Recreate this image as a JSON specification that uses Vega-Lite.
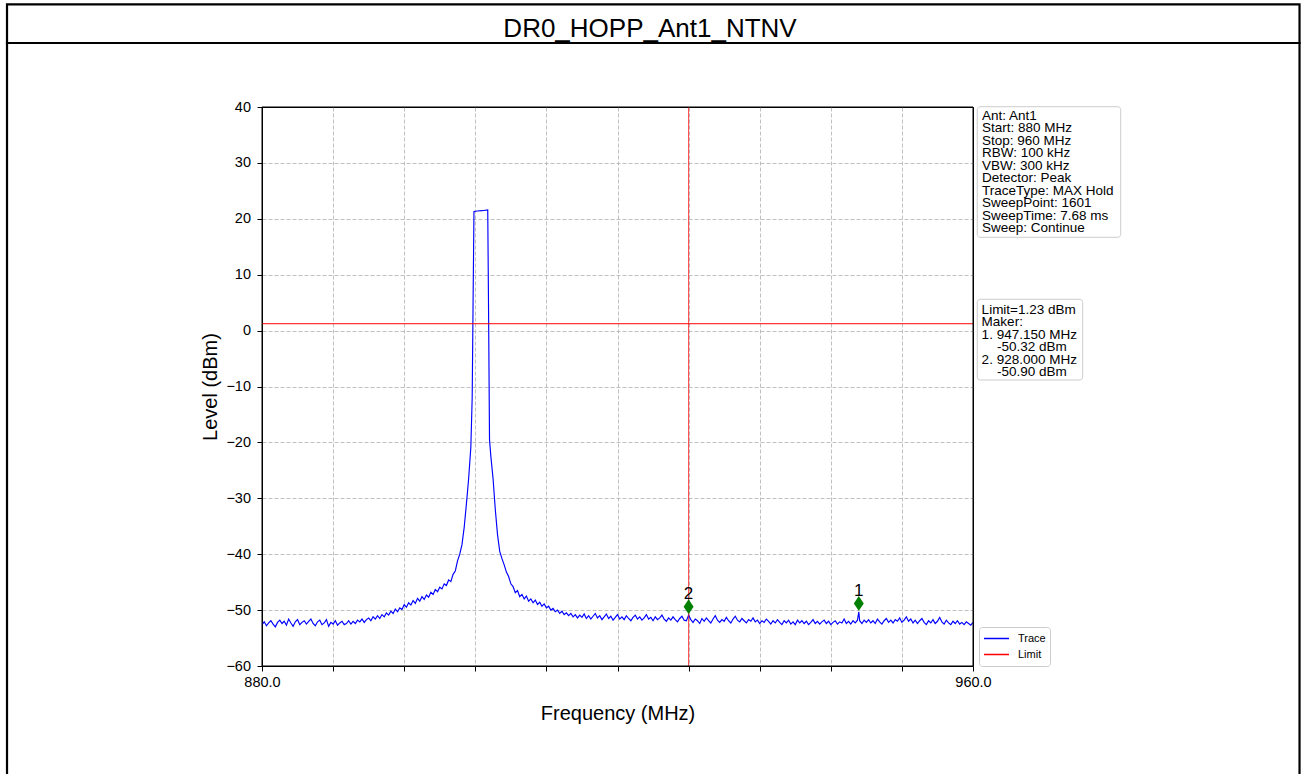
{
"$schema": "https://vega.github.io/schema/vega-lite/v6.json",
"autosize": {"type": "none"},
"padding": {"left": 262, "top": 107, "right": 335, "bottom": 108},
"width": 711,
"height": 559,
"background": "white",
"config": {
  "font": "Liberation Sans",
  "view": {"stroke": "#000000", "strokeWidth": 1},
  "axis": {"grid": true, "gridColor": "#b0b0b0", "gridDash": [4, 2], "gridWidth": 0.8, "domain": false, "tickColor": "#000000", "tickSize": 5, "tickWidth": 1, "labelColor": "#000000", "labelFontSize": 14.5, "titleColor": "#000000", "titleFontSize": 20, "titleFontWeight": "normal", "labelFont": "Liberation Sans", "titleFont": "Liberation Sans"}
},
"datasets": {
  "trace": [
{"f":880,"v":-52.6},{"f":880.25,"v":-52.1},{"f":880.5,"v":-52.8},{"f":880.75,"v":-52.3},{"f":881,"v":-51.9},{"f":881.25,"v":-52.5},{"f":881.5,"v":-53.0},{"f":881.75,"v":-52.2},{"f":882,"v":-51.8},{"f":882.25,"v":-52.4},{"f":882.5,"v":-52.0},{"f":882.75,"v":-52.7},{"f":883,"v":-51.6},{"f":883.25,"v":-52.3},{"f":883.5,"v":-52.9},{"f":883.75,"v":-52.1},{"f":884,"v":-51.7},{"f":884.25,"v":-52.6},{"f":884.5,"v":-52.2},{"f":884.75,"v":-51.9},{"f":885,"v":-52.5},{"f":885.25,"v":-52.0},{"f":885.5,"v":-51.6},{"f":885.75,"v":-52.4},{"f":886,"v":-52.8},{"f":886.25,"v":-52.1},{"f":886.5,"v":-51.8},{"f":886.75,"v":-52.6},{"f":887,"v":-52.3},{"f":887.25,"v":-51.7},{"f":887.5,"v":-52.9},{"f":887.75,"v":-52.2},{"f":888,"v":-52.5},{"f":888.25,"v":-51.9},{"f":888.5,"v":-52.7},{"f":888.75,"v":-52.3},{"f":889,"v":-52.0},{"f":889.25,"v":-52.6},{"f":889.5,"v":-52.4},{"f":889.75,"v":-51.9},{"f":890,"v":-52.5},
{"f":890.25,"v":-52.0},{"f":890.5,"v":-52.4},{"f":890.75,"v":-51.8},{"f":891,"v":-52.1},{"f":891.25,"v":-51.6},{"f":891.5,"v":-52.2},{"f":891.75,"v":-51.7},{"f":892,"v":-51.4},{"f":892.25,"v":-51.9},{"f":892.5,"v":-51.2},{"f":892.75,"v":-51.6},{"f":893,"v":-51.0},{"f":893.25,"v":-51.5},{"f":893.5,"v":-50.8},{"f":893.75,"v":-51.2},{"f":894,"v":-50.5},{"f":894.25,"v":-50.9},{"f":894.5,"v":-50.2},{"f":894.75,"v":-50.6},{"f":895,"v":-49.8},{"f":895.25,"v":-50.3},{"f":895.5,"v":-49.6},{"f":895.75,"v":-49.9},{"f":896,"v":-49.0},{"f":896.25,"v":-49.5},{"f":896.5,"v":-48.7},{"f":896.75,"v":-49.1},{"f":897,"v":-48.3},{"f":897.25,"v":-48.8},{"f":897.5,"v":-47.9},{"f":897.75,"v":-48.4},{"f":898,"v":-47.6},{"f":898.25,"v":-48.1},{"f":898.5,"v":-47.3},{"f":898.75,"v":-47.7},{"f":899,"v":-46.8},{"f":899.25,"v":-47.2},{"f":899.5,"v":-46.3},{"f":899.75,"v":-46.7},{"f":900,"v":-45.9},{"f":900.25,"v":-46.2},{"f":900.5,"v":-45.3},{"f":900.75,"v":-45.6},{"f":901,"v":-44.6},{"f":901.25,"v":-44.9},{"f":901.5,"v":-43.6},{"f":901.75,"v":-43.0},{"f":902,"v":-41.2},{"f":902.25,"v":-40.0},{"f":902.5,"v":-38.3},{"f":902.75,"v":-35.2},{"f":903,"v":-31.0},{"f":903.25,"v":-26.5},{"f":903.5,"v":-20.8},{"f":903.65,"v":-12.0},{"f":903.75,"v":5.0},{"f":903.85,"v":21.3},{"f":904.25,"v":21.4},{"f":904.75,"v":21.45},{"f":905.4,"v":21.6},{"f":905.5,"v":2.0},{"f":905.6,"v":-19.5},{"f":905.75,"v":-22.5},{"f":906,"v":-26.5},{"f":906.25,"v":-32.0},{"f":906.5,"v":-36.5},{"f":906.75,"v":-39.5},
{"f":907,"v":-40.8},{"f":907.25,"v":-41.9},{"f":907.5,"v":-43.2},{"f":907.75,"v":-44.0},{"f":908,"v":-45.3},{"f":908.25,"v":-45.8},{"f":908.5,"v":-46.9},{"f":908.75,"v":-46.5},{"f":909,"v":-47.6},{"f":909.25,"v":-47.2},{"f":909.5,"v":-48.0},{"f":909.75,"v":-47.5},{"f":910,"v":-48.4},{"f":910.25,"v":-48.0},{"f":910.5,"v":-48.7},{"f":910.75,"v":-48.2},{"f":911,"v":-49.0},{"f":911.25,"v":-48.6},{"f":911.5,"v":-49.3},{"f":911.75,"v":-48.9},{"f":912,"v":-49.6},{"f":912.25,"v":-49.3},{"f":912.5,"v":-50.0},{"f":912.75,"v":-49.7},{"f":913,"v":-50.3},{"f":913.25,"v":-50.0},{"f":913.5,"v":-50.6},{"f":913.75,"v":-50.2},{"f":914,"v":-50.8},{"f":914.25,"v":-50.5},{"f":914.5,"v":-51.0},{"f":914.75,"v":-50.6},{"f":915,"v":-51.2},
{"f":915.25,"v":-50.8},{"f":915.5,"v":-51.4},{"f":915.75,"v":-50.9},{"f":916,"v":-51.3},{"f":916.25,"v":-50.7},{"f":916.5,"v":-51.5},{"f":916.75,"v":-51.0},{"f":917,"v":-51.6},{"f":917.25,"v":-51.1},{"f":917.5,"v":-50.6},{"f":917.75,"v":-51.4},{"f":918,"v":-51.0},{"f":918.25,"v":-51.7},{"f":918.5,"v":-51.2},{"f":918.75,"v":-50.7},{"f":919,"v":-51.5},{"f":919.25,"v":-51.1},{"f":919.5,"v":-51.8},{"f":919.75,"v":-51.3},{"f":920,"v":-50.8},{"f":920.25,"v":-51.6},{"f":920.5,"v":-51.2},{"f":920.75,"v":-51.7},{"f":921,"v":-51.0},{"f":921.25,"v":-51.5},{"f":921.5,"v":-51.9},{"f":921.75,"v":-51.3},{"f":922,"v":-50.9},{"f":922.25,"v":-51.6},{"f":922.5,"v":-51.2},{"f":922.75,"v":-51.8},{"f":923,"v":-51.4},{"f":923.25,"v":-50.8},{"f":923.5,"v":-51.6},{"f":923.75,"v":-51.3},{"f":924,"v":-51.9},{"f":924.25,"v":-51.2},{"f":924.5,"v":-51.7},{"f":924.75,"v":-51.4},{"f":925,"v":-50.9},{"f":925.25,"v":-51.6},{"f":925.5,"v":-52.0},{"f":925.75,"v":-51.4},{"f":926,"v":-51.8},{"f":926.25,"v":-51.2},{"f":926.5,"v":-51.7},{"f":926.75,"v":-52.1},{"f":927,"v":-51.5},{"f":927.25,"v":-51.1},{"f":927.5,"v":-51.8},{"f":927.75,"v":-51.9},{"f":928,"v":-50.9},{"f":928.25,"v":-51.7},{"f":928.5,"v":-52.2},{"f":928.75,"v":-51.6},{"f":929,"v":-51.9},{"f":929.25,"v":-52.4},{"f":929.5,"v":-51.5},{"f":929.75,"v":-52.0},{"f":930,"v":-51.4},{"f":930.25,"v":-51.9},{"f":930.5,"v":-52.3},{"f":930.75,"v":-51.6},{"f":931,"v":-51.0},{"f":931.25,"v":-51.8},{"f":931.5,"v":-52.2},{"f":931.75,"v":-51.7},{"f":932,"v":-52.0},{"f":932.25,"v":-51.3},{"f":932.5,"v":-51.9},{"f":932.75,"v":-52.3},{"f":933,"v":-51.6},{"f":933.25,"v":-51.1},{"f":933.5,"v":-51.8},{"f":933.75,"v":-52.1},{"f":934,"v":-51.5},{"f":934.25,"v":-51.9},{"f":934.5,"v":-52.3},{"f":934.75,"v":-51.7},{"f":935,"v":-52.0},{"f":935.25,"v":-51.4},{"f":935.5,"v":-52.1},{"f":935.75,"v":-51.8},{"f":936,"v":-52.4},{"f":936.25,"v":-51.9},{"f":936.5,"v":-52.2},{"f":936.75,"v":-51.6},{"f":937,"v":-52.0},{"f":937.25,"v":-52.5},{"f":937.5,"v":-51.9},{"f":937.75,"v":-52.3},{"f":938,"v":-51.7},{"f":938.25,"v":-52.2},{"f":938.5,"v":-52.6},{"f":938.75,"v":-51.9},{"f":939,"v":-52.3},{"f":939.25,"v":-51.8},{"f":939.5,"v":-52.5},{"f":939.75,"v":-52.1},{"f":940,"v":-52.6},{"f":940.25,"v":-51.8},{"f":940.5,"v":-52.3},{"f":940.75,"v":-51.9},{"f":941,"v":-52.4},{"f":941.25,"v":-52.0},{"f":941.5,"v":-52.6},{"f":941.75,"v":-52.2},{"f":942,"v":-51.7},{"f":942.25,"v":-52.4},{"f":942.5,"v":-52.0},{"f":942.75,"v":-52.5},{"f":943,"v":-52.1},{"f":943.25,"v":-51.8},{"f":943.5,"v":-52.4},{"f":943.75,"v":-52.0},{"f":944,"v":-52.6},{"f":944.25,"v":-52.2},{"f":944.5,"v":-51.9},{"f":944.75,"v":-52.5},{"f":945,"v":-52.1},{"f":945.25,"v":-52.3},{"f":945.5,"v":-51.6},{"f":945.75,"v":-52.4},{"f":946,"v":-52.0},{"f":946.25,"v":-52.5},{"f":946.5,"v":-51.9},{"f":946.75,"v":-52.3},{"f":947,"v":-51.8},{"f":947.15,"v":-50.32},{"f":947.25,"v":-51.9},{"f":947.5,"v":-52.4},{"f":947.75,"v":-51.8},{"f":948,"v":-52.2},{"f":948.25,"v":-51.7},{"f":948.5,"v":-52.3},{"f":948.75,"v":-51.9},{"f":949,"v":-52.4},{"f":949.25,"v":-51.6},{"f":949.5,"v":-52.1},{"f":949.75,"v":-52.5},{"f":950,"v":-51.9},{"f":950.25,"v":-51.5},{"f":950.5,"v":-52.2},{"f":950.75,"v":-51.8},{"f":951,"v":-52.3},{"f":951.25,"v":-51.7},{"f":951.5,"v":-52.0},{"f":951.75,"v":-51.4},{"f":952,"v":-52.2},{"f":952.25,"v":-51.8},{"f":952.5,"v":-51.2},{"f":952.75,"v":-52.0},{"f":953,"v":-51.6},{"f":953.25,"v":-52.3},{"f":953.5,"v":-51.8},{"f":953.75,"v":-52.4},{"f":954,"v":-51.9},{"f":954.25,"v":-51.5},{"f":954.5,"v":-52.2},{"f":954.75,"v":-52.6},{"f":955,"v":-51.9},{"f":955.25,"v":-52.3},{"f":955.5,"v":-51.7},{"f":955.75,"v":-52.4},{"f":956,"v":-52.0},{"f":956.25,"v":-51.3},{"f":956.5,"v":-52.1},{"f":956.75,"v":-52.5},{"f":957,"v":-51.8},{"f":957.25,"v":-52.3},{"f":957.5,"v":-52.6},{"f":957.75,"v":-52.0},{"f":958,"v":-52.4},{"f":958.25,"v":-51.9},{"f":958.5,"v":-52.5},{"f":958.75,"v":-52.2},{"f":959,"v":-52.6},{"f":959.25,"v":-52.1},{"f":959.5,"v":-52.4},{"f":959.75,"v":-52.7},{"f":960,"v":-52.2}
  ],
  "markers": [
    {"f": 947.15, "v": -50.32, "label": "1"},
    {"f": 928.0, "v": -50.90, "label": "2"}
  ]
},
"layer": [
  {
    "data": {"values": [{}]},
    "mark": {"type": "rect", "fill": "#ffffff", "fillOpacity": 0, "stroke": "#000000", "strokeWidth": 2.2, "clip": false},
    "encoding": {
      "x": {"datum": 851.31, "type": "quantitative", "scale": {"domain": [880, 960], "nice": false, "zero": false}},
      "x2": {"datum": 996.74},
      "y": {"datum": 58.37, "type": "quantitative", "scale": {"domain": [-60, 40], "nice": false, "zero": false}},
      "y2": {"datum": 51.45}
    }
  },
  {
    "data": {"values": [{}]},
    "mark": {"type": "rect", "fill": "#ffffff", "fillOpacity": 0, "stroke": "#000000", "strokeWidth": 2.2, "clip": false},
    "encoding": {
      "x": {"datum": 851.31, "type": "quantitative"},
      "x2": {"datum": 996.74},
      "y": {"datum": 51.45, "type": "quantitative"},
      "y2": {"datum": -84}
    }
  },
  {
    "data": {"values": [{}]},
    "mark": {"type": "text", "fontSize": 26, "align": "center", "baseline": "alphabetic", "color": "#000000", "clip": false},
    "encoding": {
      "x": {"datum": 923.66, "type": "quantitative"},
      "y": {"datum": 52.61, "type": "quantitative"},
      "text": {"value": "DR0_HOPP_Ant1_NTNV"}
    }
  },
  {
    "data": {"name": "trace"},
    "mark": {"type": "line", "strokeWidth": 1.15, "clip": true},
    "encoding": {
      "x": {"field": "f", "type": "quantitative", "scale": {"domain": [880, 960], "nice": false, "zero": false},
        "axis": {"title": "Frequency (MHz)", "values": [880, 888, 896, 904, 912, 920, 928, 936, 944, 952, 960], "labelExpr": "datum.value == 880 || datum.value == 960 ? format(datum.value, '.1f') : ''", "labelPadding": 4, "titlePadding": 15, "labelFlush": false, "labelOverlap": false,
          "gridOpacity": {"condition": {"test": "datum.value == 880 || datum.value == 960", "value": 0}, "value": 1}}},
      "y": {"field": "v", "type": "quantitative", "scale": {"domain": [-60, 40], "nice": false, "zero": false},
        "axis": {"title": "Level (dBm)", "values": [-60, -50, -40, -30, -20, -10, 0, 10, 20, 30, 40], "format": "d", "labelPadding": 6.5, "titlePadding": 5,
          "gridOpacity": {"condition": {"test": "datum.value == -60 || datum.value == 40", "value": 0}, "value": 1}}},
      "color": {"datum": "Trace", "type": "nominal", "scale": {"domain": ["Trace", "Limit"], "range": ["#0000ff", "#ff0000"]},
        "legend": {"title": null, "orient": "none", "legendX": 717, "legendY": 520, "symbolType": "stroke", "symbolSize": 625, "symbolStrokeWidth": 1.5, "clipHeight": 15, "rowPadding": 1, "labelFontSize": 11, "labelOffset": 8, "padding": 4, "strokeColor": "#cccccc", "fillColor": "#ffffff", "cornerRadius": 3, "labelColor": "#000000", "labelFont": "Liberation Sans"}}
    }
  },
  {
    "data": {"values": [{}]},
    "mark": {"type": "rule", "strokeWidth": 1},
    "encoding": {
      "y": {"datum": 1.23, "type": "quantitative"},
      "color": {"datum": "Limit", "type": "nominal"}
    }
  },
  {
    "data": {"values": [{}]},
    "mark": {"type": "rule", "color": "#ff0000", "strokeWidth": 1, "opacity": 0.75},
    "encoding": {
      "x": {"datum": 928, "type": "quantitative"}
    }
  },
  {
    "data": {"values": [{}]},
    "mark": {"type": "rect", "fill": "#ffffff", "fillOpacity": 0, "stroke": "#000000", "strokeWidth": 1, "clip": false},
    "encoding": {
      "x": {"datum": 880, "type": "quantitative"},
      "x2": {"datum": 960},
      "y": {"datum": 40, "type": "quantitative"},
      "y2": {"datum": -60}
    }
  },
  {
    "data": {"name": "markers"},
    "mark": {"type": "point", "shape": "M0,-1L0.68,0L0,1L-0.68,0Z", "size": 216, "filled": true, "color": "#008000", "opacity": 1, "yOffset": -8.5},
    "encoding": {
      "x": {"field": "f", "type": "quantitative"},
      "y": {"field": "v", "type": "quantitative"}
    }
  },
  {
    "data": {"name": "markers"},
    "mark": {"type": "text", "fontSize": 17, "align": "center", "baseline": "alphabetic", "dy": -16, "color": "#000000"},
    "encoding": {
      "x": {"field": "f", "type": "quantitative"},
      "y": {"field": "v", "type": "quantitative"},
      "text": {"field": "label"}
    }
  },
  {
    "data": {"values": [{}]},
    "mark": {"type": "rect", "fill": "#ffffff", "stroke": "#cccccc", "strokeWidth": 1, "cornerRadius": 3, "clip": false},
    "encoding": {
      "x": {"datum": 960.48, "type": "quantitative"},
      "x2": {"datum": 976.62},
      "y": {"datum": 40.05, "type": "quantitative"},
      "y2": {"datum": 16.69}
    }
  },
  {
    "data": {"values": [{}]},
    "mark": {"type": "rect", "fill": "#ffffff", "stroke": "#cccccc", "strokeWidth": 1, "cornerRadius": 3, "clip": false},
    "encoding": {
      "x": {"datum": 960.48, "type": "quantitative"},
      "x2": {"datum": 972.34},
      "y": {"datum": 5.60, "type": "quantitative"},
      "y2": {"datum": -8.84}
    }
  },
  {
    "data": {"values": [{}]},
    "mark": {"type": "text", "fontSize": 13.5, "lineHeight": 12.45, "align": "left", "baseline": "alphabetic", "color": "#000000", "clip": false},
    "encoding": {
      "x": {"datum": 961.0, "type": "quantitative"},
      "y": {"datum": 37.67, "type": "quantitative"},
      "text": {"value": ["Ant: Ant1", "Start: 880 MHz", "Stop: 960 MHz", "RBW: 100 kHz", "VBW: 300 kHz", "Detector: Peak", "TraceType: MAX Hold", "SweepPoint: 1601", "SweepTime: 7.68 ms", "Sweep: Continue"]}
    }
  },
  {
    "data": {"values": [{}]},
    "mark": {"type": "text", "fontSize": 13.5, "lineHeight": 12.45, "align": "left", "baseline": "alphabetic", "color": "#000000", "clip": false},
    "encoding": {
      "x": {"datum": 960.97, "type": "quantitative"},
      "y": {"datum": 2.97, "type": "quantitative"},
      "text": {"value": ["Limit=1.23 dBm", "Maker:", "1. 947.150 MHz"]}
    }
  },
  {
    "data": {"values": [{}]},
    "mark": {"type": "text", "fontSize": 13.5, "align": "left", "baseline": "alphabetic", "color": "#000000", "clip": false},
    "encoding": {
      "x": {"datum": 962.7, "type": "quantitative"},
      "y": {"datum": -3.712, "type": "quantitative"},
      "text": {"value": "-50.32 dBm"}
    }
  },
  {
    "data": {"values": [{}]},
    "mark": {"type": "text", "fontSize": 13.5, "align": "left", "baseline": "alphabetic", "color": "#000000", "clip": false},
    "encoding": {
      "x": {"datum": 960.97, "type": "quantitative"},
      "y": {"datum": -5.94, "type": "quantitative"},
      "text": {"value": "2. 928.000 MHz"}
    }
  },
  {
    "data": {"values": [{}]},
    "mark": {"type": "text", "fontSize": 13.5, "align": "left", "baseline": "alphabetic", "color": "#000000", "clip": false},
    "encoding": {
      "x": {"datum": 962.7, "type": "quantitative"},
      "y": {"datum": -8.167, "type": "quantitative"},
      "text": {"value": "-50.90 dBm"}
    }
  }
]
}
